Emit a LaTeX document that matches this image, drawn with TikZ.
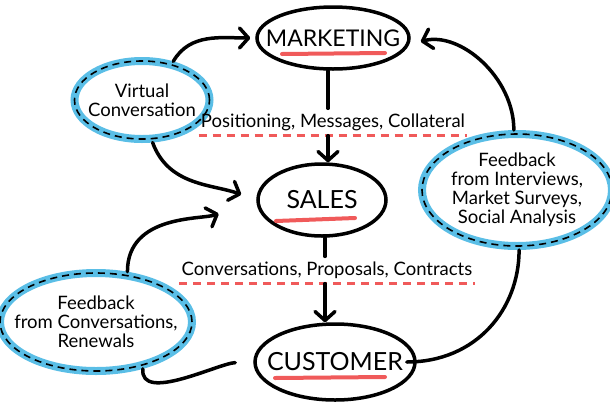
\documentclass[tikz,border=0pt]{standalone}
\usepackage{fontspec}
\setmainfont{Lato}
\usetikzlibrary{shapes.geometric,arrows.meta}
\definecolor{skyline}{RGB}{90,190,230}
\definecolor{marker}{RGB}{240,90,90}

\begin{document}
\begin{tikzpicture}[x=1pt, y=-1pt,
	main/.style={ellipse, draw, line width=3.5pt, inner xsep=-40pt, inner ysep=0pt, font=\fontsize{25}{27}\selectfont},
	idea/.style={ellipse, draw=skyline, line width=8pt, inner xsep=-40pt, inner ysep=0pt, align=center, font=\fontsize{18.5}{19}\selectfont, postaction={draw=black, line width=1.6pt, dash pattern=on 7pt off 5pt}},
	flow/.style={inner xsep=2pt, inner ysep=5pt, font=\fontsize{18.5}{20}\selectfont},
	link/.style={line width=3.5pt, line cap=round},
	tip/.style={-{Straight Barb[length=9pt, width=20pt, round]}},
	redline/.style={marker, line width=4pt, line cap=round},
	reddash/.style={marker, line width=2.5pt, dash pattern=on 8pt off 6pt}]
	\useasboundingbox (0,0) rectangle (610,405);

	\node [main, minimum width=152, minimum height=62, font=\fontsize{23}{25}\selectfont] (mkt) at (333,38) {MARKETING};
	\node [main, minimum width=128, minimum height=72] (sales) at (322,200) {SALES};
	\node [main, minimum width=160, minimum height=76] (cust) at (335,362) {CUSTOMER};

	\node [idea, minimum width=135, minimum height=78] (vc) at (142,100) {Virtual\\Conversation};
	\node [idea, minimum width=190, minimum height=112] (fbr) at (517,190) {Feedback\\from Interviews,\\Market Surveys,\\Social Analysis};
	\node [idea, minimum width=192, minimum height=98] (fbl) at (96,322) {Feedback\\from Conversations,\\Renewals};

	\node [flow] (pos) at (333,122) {Positioning, Messages, Collateral};
	\node [flow] (conv) at (327,270) {Conversations, Proposals, Contracts};

	% underlines
	\draw [redline] (282,54) -- (385,53);
	\draw [redline] (276,221) -- (355,218);
	\draw [redline] (275,378) -- (385,377);
	\draw [reddash] (pos.south west) -- (pos.south east);
	\draw [reddash] (conv.south west) -- (conv.south east);

	\draw [link] (mkt.south -| 328,0) -- (pos.north -| 328,0);
	\draw [link, tip] (pos.south -| 328,0) -- (sales.north -| 328,0);
	\draw [link] (sales.south -| 325,0) -- (conv.north -| 325,0);
	\draw [link, tip] (conv.south -| 325,0) -- (cust.north -| 325,0);

	\path [link, tip] (vc.51) edge [out=60, in=180, shorten >=5pt] (mkt.west);
	\path [link, tip] (vc.-76) edge [out=-70, in=160, shorten >=16pt] (sales.west);
	\path [link, tip] (fbl.58) edge [out=90, in=200, shorten >=40pt] (sales.west);
	\path [link] (cust.west) edge [out=182, in=-95, looseness=0.8, shorten <=18pt] (fbl.-45);
	\path [link, tip] (fbr.93) edge [out=90, in=15, shorten >=12pt] (mkt.-5);
	\path [link] (fbr.-88) edge [out=-90, in=0, shorten >=-10pt] (cust.east);
\end{tikzpicture}
\end{document}
